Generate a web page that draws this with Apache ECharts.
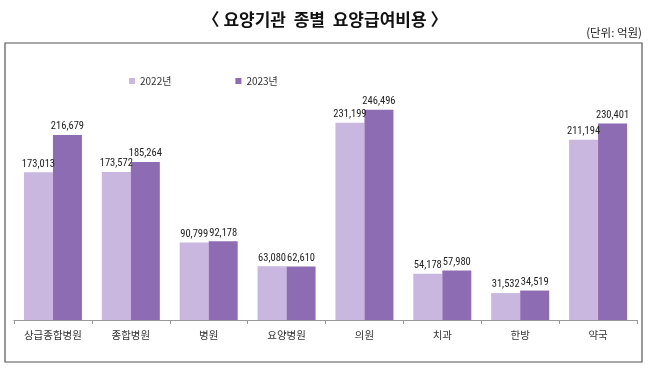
<!DOCTYPE html>
<html>
<head>
<meta charset="utf-8">
<script src="https://cdn.jsdelivr.net/npm/echarts@6/dist/echarts.min.js"></script>
<style>
  html, body { margin: 0; padding: 0; background: #fff; }
  #chart { width: 650px; height: 372px; }
</style>
</head>
<body>
<div id="chart"></div>
<script>
const categories = ["상급종합병원", "종합병원", "병원", "요양병원", "의원", "치과", "한방", "약국"];
const values2022 = [173013, 173572, 90799, 63080, 231199, 54178, 31532, 211194];
const values2023 = [216679, 185264, 92178, 62610, 246496, 57980, 34519, 230401];
const seriesNames = ["2022년", "2023년"];

const font = '"Noto Sans CJK KR", "Noto Sans", sans-serif';
const numFont = '"Liberation Sans Narrow", "Roboto Condensed", "Noto Sans CJK KR", sans-serif';
const fmt = (p) => p.value.toLocaleString("en-US");

const chart = echarts.init(document.getElementById("chart"), null, { renderer: "canvas" });

const option = {
  backgroundColor: "#fff",
  animation: false,
  title: {
    text: "〈 요양기관  종별  요양급여비용 〉",
    left: "center",
    top: 6,
    textStyle: { fontFamily: font, fontSize: 17, fontWeight: "bold", color: "#111" }
  },
  graphic: [
    {
      type: "text",
      right: 8,
      top: 27,
      style: { text: "(단위: 억원)", font: "11.5px " + font, fill: "#222" }
    },
    {
      type: "rect",
      shape: { x: 5, y: 43, width: 637, height: 319 },
      style: { fill: "none", stroke: "#555", lineWidth: 1.2 },
      silent: true
    }
  ],
  legend: {
    left: 124,
    top: 71,
    itemWidth: 6,
    itemHeight: 6,
    itemGap: 64,
    icon: "rect",
    textStyle: { fontFamily: font, fontSize: 10, color: "#333" },
    data: seriesNames
  },
  grid: { left: 14, right: 13, top: 64, bottom: 52 },
  xAxis: {
    type: "category",
    data: categories,
    axisLine: { lineStyle: { color: "#999" } },
    axisTick: { show: true, alignWithLabel: false, length: 4, lineStyle: { color: "#999" } },
    axisLabel: { interval: 0, fontFamily: font, fontSize: 10.5, color: "#333", margin: 10 }
  },
  yAxis: {
    type: "value",
    min: 0,
    max: 300000,
    show: false,
    splitLine: { show: false }
  },
  series: [
    {
      name: seriesNames[0],
      type: "bar",
      data: values2022,
      barWidth: 29,
      barGap: "0%",
      itemStyle: { color: "#C9B7E0" },
      label: { show: true, position: "top", distance: 3, formatter: fmt,
        fontFamily: numFont, fontSize: 10.5, color: "#222" }
    },
    {
      name: seriesNames[1],
      type: "bar",
      data: values2023,
      barWidth: 29,
      barGap: "0%",
      itemStyle: { color: "#8E6CB3" },
      label: { show: true, position: "top", distance: 3, formatter: fmt,
        fontFamily: numFont, fontSize: 10.5, color: "#222" }
    }
  ]
};

chart.setOption(option);
</script>
</body>
</html>
